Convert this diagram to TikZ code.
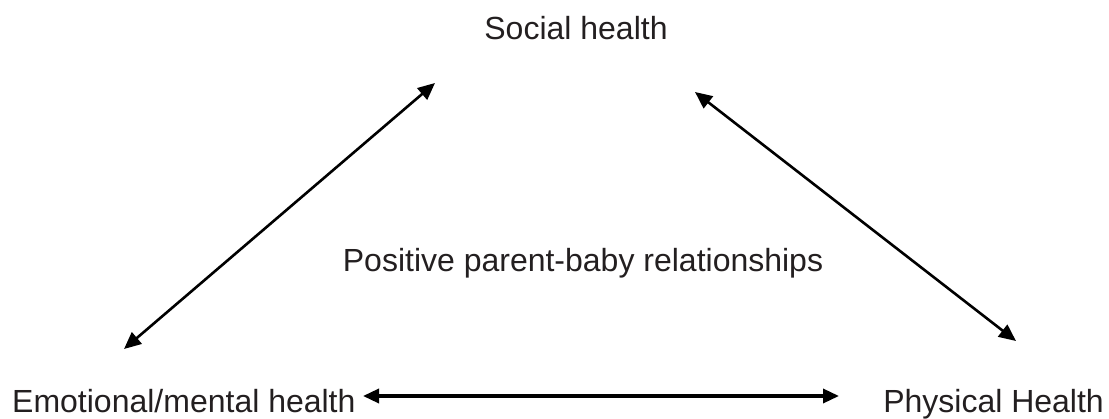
\documentclass[tikz,border=0pt]{standalone}
\usepackage{fontspec}
\setmainfont{Liberation Sans}
\usetikzlibrary{arrows.meta}
\definecolor{txt}{HTML}{231F20}
\begin{document}
\begin{tikzpicture}[x=1pt,y=1pt,
  lbl/.style={inner sep=0pt,anchor=base,text=txt,font=\fontsize{32}{38}\selectfont},
  link/.style={line width=2.6pt,{Triangle[length=17pt,width=15pt]}-{Triangle[length=17pt,width=15pt]}},
  hlink/.style={line width=3.4pt,{Triangle[length=16pt,width=14pt]}-{Triangle[length=16pt,width=14pt]}}]
\useasboundingbox (0,0) rectangle (1109,418);
\node[lbl] (social) at (576,378) {Social health};
\node[lbl] (center) at (583,146) {Positive parent-baby relationships};
\node[lbl,anchor=base west] (emo) at (12,6) {Emotional/mental health};
\node[lbl,anchor=base east] (phys) at (1104,6) {Physical Health};
\coordinate (eTop) at (124,69);
\coordinate (sLeft) at (435,335);
\coordinate (sRight) at (695,326);
\coordinate (pTop) at (1016,77);
\coordinate (eRight) at (363,22);
\coordinate (pLeft) at (839,22);
\draw[link] (eTop) -- (sLeft);
\draw[link] (sRight) -- (pTop);
\draw[hlink] (eRight) -- (pLeft);
\end{tikzpicture}
\end{document}
